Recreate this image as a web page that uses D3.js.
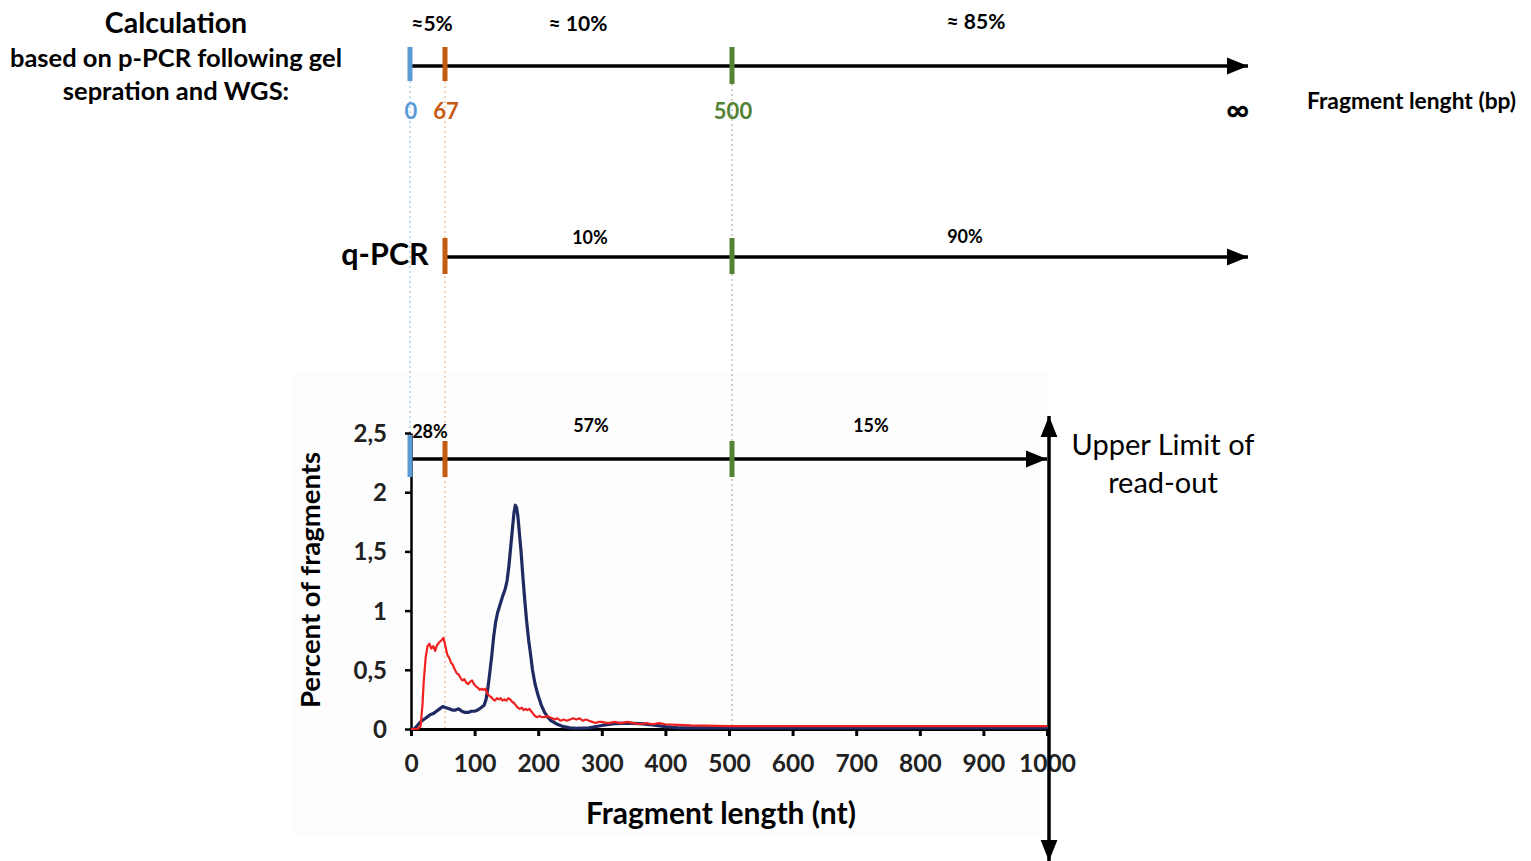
<!DOCTYPE html>
<html><head><meta charset="utf-8">
<script src="https://cdn.jsdelivr.net/npm/d3@7"></script>
<style>
html,body{margin:0;padding:0;background:#fff;}
svg{display:block;font-family:Lato,"Open Sans",sans-serif;}
</style></head>
<body><svg id="c" width="1531" height="861"></svg>
<script>
// ---------- data ----------
const markerValues = [0, 67, 500];
const markerLabels = ["0", "67", "500"];
const markerColors = ["#5b9bd5", "#c55a11", "#548235"];
const topShares = ["≈5%", "≈ 10%", "≈ 85%"];
const qpcrShares = ["10%", "90%"];
const readShares = ["28%", "57%", "15%"];
const xTicks = [0,100,200,300,400,500,600,700,800,900,1000];
const yTicks = [0,0.5,1,1.5,2,2.5];
const yTickLabels = ["0","0,5","1","1,5","2","2,5"];
// red series: [fragment length nt, percent]
const redSeries = [[0,0],[10,0],[15,0.02],[18,0.2],[20,0.4],[23,0.6],[26,0.7],[29,0.72],[32,0.68],[35,0.7],[38,0.66],[41,0.71],[44,0.73],[48,0.75],[51,0.77],[54,0.7],[57,0.63],[60,0.6],[63,0.56],[66,0.54],[69,0.5],[72,0.47],[75,0.46],[78,0.43],[81,0.41],[84,0.42],[87,0.39],[90,0.38],[93,0.4],[96,0.41],[99,0.38],[102,0.36],[105,0.35],[108,0.33],[111,0.34],[114,0.33],[117,0.34],[120,0.3],[123,0.28],[126,0.27],[129,0.25],[132,0.24],[135,0.26],[138,0.25],[141,0.26],[144,0.24],[147,0.25],[150,0.24],[153,0.26],[156,0.25],[159,0.23],[162,0.22],[165,0.2],[168,0.18],[171,0.17],[174,0.18],[177,0.16],[180,0.17],[183,0.16],[186,0.17],[189,0.15],[192,0.13],[195,0.11],[198,0.1],[202,0.11],[206,0.1],[210,0.1],[214,0.11],[218,0.1],[222,0.09],[226,0.08],[230,0.09],[235,0.07],[240,0.08],[245,0.07],[250,0.08],[255,0.09],[260,0.08],[265,0.09],[270,0.07],[275,0.08],[280,0.07],[285,0.06],[290,0.05],[295,0.06],[300,0.06],[310,0.05],[320,0.06],[330,0.05],[340,0.06],[350,0.05],[360,0.04],[370,0.05],[380,0.04],[390,0.05],[400,0.04],[420,0.035],[440,0.03],[500,0.025],[600,0.025],[700,0.025],[800,0.025],[900,0.025],[1000,0.025]];
// blue series
const blueSeries = [[0,0],[5,0],[10,0.03],[15,0.06],[20,0.08],[25,0.1],[30,0.12],[35,0.13],[40,0.15],[45,0.17],[50,0.19],[55,0.18],[60,0.17],[65,0.16],[70,0.16],[75,0.17],[80,0.15],[85,0.14],[90,0.14],[95,0.15],[100,0.15],[105,0.16],[110,0.18],[115,0.2],[118,0.25],[121,0.35],[124,0.48],[127,0.62],[130,0.78],[133,0.9],[136,0.98],[140,1.05],[144,1.12],[148,1.18],[151,1.25],[154,1.38],[157,1.55],[160,1.72],[162,1.83],[164,1.89],[166,1.87],[168,1.8],[170,1.68],[173,1.5],[176,1.28],[179,1.08],[182,0.9],[185,0.75],[188,0.63],[191,0.5],[195,0.38],[200,0.28],[205,0.2],[210,0.14],[215,0.1],[220,0.07],[230,0.04],[240,0.02],[250,0.01],[260,0.005],[280,0.01],[300,0.03],[320,0.045],[340,0.05],[360,0.045],[380,0.035],[400,0.02],[420,0.01],[450,0.01],[600,0.01],[800,0.01],[1000,0.01]];

// ---------- drawing ----------
const svg = d3.select("#c");
const x = d3.scaleLinear().domain([0,1000]).range([411,1047]);
const y = d3.scaleLinear().domain([0,2.5]).range([729,433]);
// schematic marker scale (the drawn cut-offs)
const mx = d3.scaleLinear().domain([0,67,500]).range([410,445,732]);

const defs = svg.append("defs");
defs.append("marker").attr("id","arr").attr("viewBox","0 0 10 10").attr("refX",10).attr("refY",5)
  .attr("markerWidth",6).attr("markerHeight",6).attr("markerUnits","strokeWidth").attr("orient","auto")
  .append("path").attr("d","M0,1 L10,5 L0,9 Z").attr("fill","#000");

// faint chart panel
svg.append("rect").attr("x",293).attr("y",373).attr("width",757).attr("height",463).attr("fill","#fdfdfd");

// dotted guide lines
const guideCol = ["#9dc3e6","#f4b183","#a9b89a"];
svg.append("line").attr("x1",mx(0)).attr("x2",mx(0)).attr("y1",81).attr("y2",436)
  .attr("stroke",guideCol[0]).attr("stroke-width",1.2).attr("stroke-dasharray","2,3");
svg.append("line").attr("x1",mx(67)).attr("x2",mx(67)).attr("y1",81).attr("y2",729)
  .attr("stroke",guideCol[1]).attr("stroke-width",1.2).attr("stroke-dasharray","2,3");
svg.append("line").attr("x1",mx(500)).attr("x2",mx(500)).attr("y1",84).attr("y2",729)
  .attr("stroke",guideCol[2]).attr("stroke-width",1.2).attr("stroke-dasharray","2,3");

// --- top calculation axis
const tg = svg.append("g");
tg.append("text").attr("x",176).attr("y",33).attr("text-anchor","middle").attr("font-size",28.5).attr("font-weight","bold").text("Calculation");
tg.append("text").attr("x",176).attr("y",67).attr("text-anchor","middle").attr("font-size",25.5).attr("font-weight","bold").text("based on p-PCR following gel");
tg.append("text").attr("x",176).attr("y",100).attr("text-anchor","middle").attr("font-size",25.5).attr("font-weight","bold").text("sepration and WGS:");
tg.append("line").attr("x1",mx(0)).attr("x2",1248).attr("y1",66).attr("y2",66).attr("stroke","#000").attr("stroke-width",3.5).attr("marker-end","url(#arr)");
markerValues.forEach((v,i)=>{
  tg.append("rect").attr("x",mx(v)-2.5).attr("y",47).attr("width",5).attr("height",i==2?37:34).attr("fill",markerColors[i]);
  tg.append("text").attr("x",mx(v)+1).attr("y",119).attr("text-anchor","middle").attr("font-size",22).attr("font-weight","bold").attr("fill",markerColors[i]).text(markerLabels[i]);
});
tg.append("text").attr("x",1238).attr("y",121).attr("text-anchor","middle").attr("font-size",32).attr("font-weight","bold").text("∞");
tg.append("text").attr("x",1307).attr("y",109).attr("font-size",22.8).attr("font-weight","bold").text("Fragment lenght (bp)");
[[432,31],[578,31],[976,29]].forEach((p,i)=>{
  tg.append("text").attr("x",p[0]).attr("y",p[1]).attr("text-anchor","middle").attr("font-size",21).attr("font-weight","bold").text(topShares[i]);
});

// --- q-PCR axis
const qg = svg.append("g");
qg.append("text").attr("x",385).attr("y",265).attr("text-anchor","middle").attr("font-size",30.5).attr("font-weight","bold").text("q-PCR");
qg.append("line").attr("x1",mx(67)).attr("x2",1248).attr("y1",257).attr("y2",257).attr("stroke","#000").attr("stroke-width",3.5).attr("marker-end","url(#arr)");
[[67,1],[500,2]].forEach(([v,i])=>{
  qg.append("rect").attr("x",mx(v)-2.5).attr("y",238).attr("width",5).attr("height",36).attr("fill",markerColors[i]);
});
[[590,244],[965,243]].forEach((p,i)=>{
  qg.append("text").attr("x",p[0]).attr("y",p[1]).attr("text-anchor","middle").attr("font-size",18).attr("font-weight","bold").text(qpcrShares[i]);
});

// --- bottom chart
const cg = svg.append("g");
// y axis
const yAxis = d3.axisLeft(y).tickValues(yTicks).tickFormat((d,i)=>yTickLabels[i]).tickSize(6).tickSizeOuter(0);
const ya = cg.append("g").attr("transform","translate(411,0)").call(yAxis);
ya.select(".domain").attr("stroke","#000").attr("stroke-width",2.5);
ya.selectAll(".tick line").attr("stroke","#000").attr("stroke-width",2.5);
ya.selectAll(".tick text").attr("font-size",24).attr("font-weight","bold").attr("font-family","Lato, sans-serif").attr("fill","#222").attr("x",-24).attr("dy","0.35em");
// x axis
const xAxis = d3.axisBottom(x).tickValues(xTicks).tickFormat(d3.format("d")).tickSize(7).tickSizeOuter(0);
const xa = cg.append("g").attr("transform","translate(0,729)").call(xAxis);
xa.select(".domain").attr("stroke","#000").attr("stroke-width",3);
xa.selectAll(".tick line").attr("stroke","#000").attr("stroke-width",3);
xa.selectAll(".tick text").attr("font-size",24.5).attr("font-weight","bold").attr("font-family","Lato, sans-serif").attr("fill","#222").attr("y",34).attr("dy","0.35em");

// curves
const line = d3.line().x(d=>x(d[0])).y(d=>y(d[1]));
cg.append("path").datum(blueSeries).attr("d",line).attr("fill","none").attr("stroke","#1f2a63").attr("stroke-width",3.2).attr("stroke-linejoin","round");
cg.append("path").datum(redSeries).attr("d",line).attr("fill","none").attr("stroke","#f02020").attr("stroke-width",2.2).attr("stroke-linejoin","round");

// axis titles
cg.append("text").attr("transform","translate(320,580) rotate(-90)").attr("text-anchor","middle").attr("font-size",27.5).attr("font-weight","bold").text("Percent of fragments");
cg.append("text").attr("x",721).attr("y",824).attr("text-anchor","middle").attr("font-size",30).attr("font-weight","bold").text("Fragment length (nt)");

// read-out axis
cg.append("line").attr("x1",x(0)).attr("x2",1047).attr("y1",459).attr("y2",459).attr("stroke","#000").attr("stroke-width",3.5).attr("marker-end","url(#arr)");
markerValues.forEach((v,i)=>{
  cg.append("rect").attr("x",mx(v)-2.5).attr("y",i==0?435:441).attr("width",5).attr("height",i==0?42:36).attr("fill",markerColors[i]);
});
[[430,438],[591,432],[871,432]].forEach((p,i)=>{
  cg.append("text").attr("x",p[0]).attr("y",p[1]).attr("text-anchor","middle").attr("font-size",18).attr("font-weight","bold").text(readShares[i]);
});
// upper limit double arrow
cg.append("line").attr("x1",1049).attr("x2",1049).attr("y1",640).attr("y2",416).attr("stroke","#000").attr("stroke-width",3.5).attr("marker-end","url(#arr)");
cg.append("line").attr("x1",1049).attr("x2",1049).attr("y1",640).attr("y2",861).attr("stroke","#000").attr("stroke-width",3.5).attr("marker-end","url(#arr)");
cg.append("text").attr("x",1163).attr("y",455).attr("text-anchor","middle").attr("font-size",29).text("Upper Limit of");
cg.append("text").attr("x",1163).attr("y",493).attr("text-anchor","middle").attr("font-size",29).text("read-out");
</script></body></html>
